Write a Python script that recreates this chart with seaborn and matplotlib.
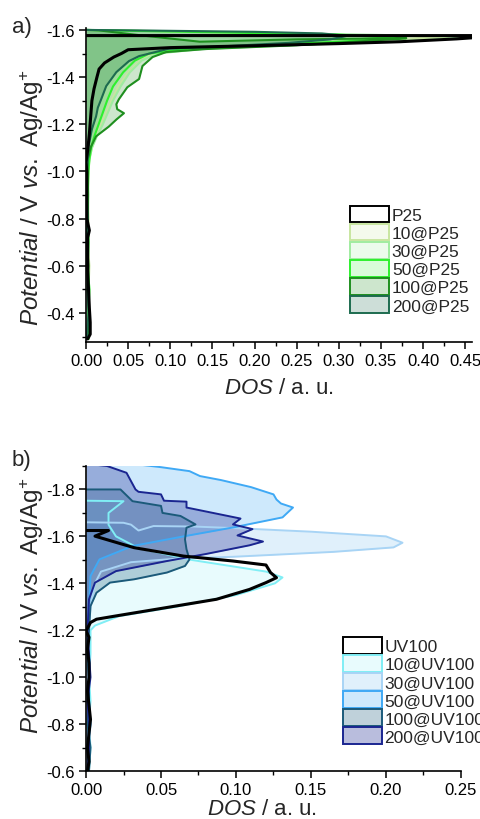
import matplotlib.pyplot as plt
import seaborn as sns
from matplotlib.patches import Patch
from matplotlib.colors import to_rgba
from matplotlib.ticker import MultipleLocator, FormatStrFormatter

sns.set_style('ticks')
plt.rcParams['font.family'] = ['Liberation Sans', 'DejaVu Sans']
plt.rcParams['mathtext.fontset'] = 'custom'
plt.rcParams['mathtext.rm'] = 'Liberation Sans'
plt.rcParams['mathtext.it'] = 'Liberation Sans:italic'
plt.rcParams['axes.unicode_minus'] = False

# ---------------- panel a) P25 series (potential in V, DOS in a.u.) ----------------
low_a = [-0.29, -0.4, -0.5, -0.6, -0.7, -0.8, -0.9, -1.0, -1.05]

p25_E = [-0.29, -0.31, -0.36, -0.42, -0.5, -0.58, -0.66, -0.72, -0.75, -0.8, -0.88, -0.95,
         -1.0, -1.04, -1.09, -1.16, -1.235, -1.3, -1.35, -1.4, -1.434, -1.46, -1.485, -1.5,
         -1.516, -1.525, -1.533, -1.542, -1.55, -1.562, -1.572, -1.576, -1.576]
p25_D = [0.002, 0.005, 0.005, 0.004, 0.003, 0.002, 0.002, 0.002, 0.004, 0.001, 0.001, 0.001,
         0.001, 0.0, 0.002, 0.004, 0.0056, 0.007, 0.0095, 0.013, 0.0155, 0.022, 0.033, 0.042,
         0.05, 0.1, 0.2, 0.3, 0.373, 0.44, 0.48, 0.46, 0.0]

p25_10_E = low_a + [-1.1, -1.15, -1.2, -1.25, -1.3, -1.36, -1.42, -1.47, -1.5, -1.52, -1.54,
                    -1.56, -1.568, -1.58, -1.59, -1.597, -1.6]
p25_10_D = [0.003, 0.004, 0.003, 0.004, 0.002, 0.003, 0.002, 0.003, 0.004, 0.007, 0.012, 0.018,
            0.024, 0.03, 0.038, 0.05, 0.064, 0.08, 0.13, 0.25, 0.38, 0.43, 0.3, 0.15, 0.05, 0.0]

p25_30_E = low_a + [-1.1, -1.15, -1.2, -1.25, -1.3, -1.36, -1.42, -1.47, -1.5, -1.52, -1.54,
                    -1.56, -1.57, -1.58, -1.59, -1.597, -1.6]
p25_30_D = [0.002, 0.003, 0.004, 0.002, 0.003, 0.002, 0.003, 0.002, 0.004, 0.007, 0.013, 0.02,
            0.026, 0.032, 0.041, 0.052, 0.066, 0.085, 0.14, 0.28, 0.42, 0.47, 0.33, 0.17, 0.06, 0.0]

p25_50_E = low_a + [-1.1, -1.15, -1.2, -1.25, -1.3, -1.36, -1.42, -1.47, -1.5, -1.52, -1.535,
                    -1.55, -1.565, -1.58, -1.59, -1.597, -1.6]
p25_50_D = [0.003, 0.003, 0.004, 0.002, 0.003, 0.002, 0.002, 0.003, 0.004, 0.006, 0.01, 0.015,
            0.02, 0.025, 0.032, 0.044, 0.058, 0.075, 0.12, 0.2, 0.3, 0.37, 0.3, 0.15, 0.04, 0.0]

p25_100_E = low_a + [-1.106, -1.149, -1.19, -1.22, -1.247, -1.264, -1.285, -1.306, -1.357,
                     -1.392, -1.447, -1.485, -1.506, -1.519, -1.535, -1.555, -1.565, -1.56,
                     -1.55, -1.575, -1.598, -1.6]
p25_100_D = [0.002, 0.004, 0.002, 0.003, 0.001, 0.002, 0.002, 0.002, 0.002, 0.006, 0.012, 0.027,
             0.036, 0.045, 0.037, 0.036, 0.039, 0.049, 0.063, 0.067, 0.079, 0.095, 0.143, 0.25,
             0.34, 0.38, 0.25, 0.135, 0.07, 0.015, 0.0]

p25_200_E = low_a + [-1.106, -1.179, -1.234, -1.27, -1.306, -1.362, -1.421, -1.468, -1.489,
                     -1.52, -1.53, -1.545, -1.56, -1.575, -1.585, -1.592, -1.597, -1.6]
p25_200_D = [0.001, 0.003, 0.002, 0.002, 0.001, 0.002, 0.001, 0.001, 0.002, 0.003, 0.007, 0.012,
             0.014, 0.018, 0.024, 0.036, 0.051, 0.063, 0.098, 0.16, 0.24, 0.29, 0.31, 0.28, 0.2,
             0.08, 0.0]

# ---------------- panel b) UV100 series ----------------
low_b = [-0.6, -0.7, -0.8, -0.9, -1.0, -1.1, -1.2]

uv_E = [-0.6, -0.64, -0.7, -0.76, -0.82, -0.88, -0.94, -1.0, -1.06, -1.12, -1.17, -1.197,
        -1.233, -1.247, -1.261, -1.297, -1.332, -1.374, -1.403, -1.424, -1.446, -1.478,
        -1.495, -1.516, -1.552, -1.601, -1.625, -1.625]
uv_D = [0.001, 0.002, 0.001, 0.002, 0.003, 0.002, 0.001, 0.002, 0.002, 0.001, 0.002, 0.0,
        0.003, 0.007, 0.02, 0.054, 0.087, 0.109, 0.12, 0.127, 0.123, 0.12, 0.098, 0.065,
        0.032, 0.006, 0.015, 0.0]

uv_10_E = low_b + [-1.22, -1.26, -1.3, -1.35, -1.4, -1.425, -1.45, -1.5, -1.55, -1.6, -1.65,
                   -1.7, -1.75, -1.752]
uv_10_D = [0.002, 0.003, 0.002, 0.003, 0.002, 0.003, 0.003, 0.006, 0.022, 0.06, 0.1, 0.126,
           0.131, 0.12, 0.07, 0.035, 0.02, 0.015, 0.015, 0.025, 0.0]

uv_30_E = low_b + [-1.3, -1.4, -1.45, -1.49, -1.505, -1.513, -1.534, -1.553, -1.573, -1.6,
                   -1.62, -1.635, -1.642, -1.644, -1.625, -1.65, -1.658, -1.66]
uv_30_D = [0.001, 0.002, 0.003, 0.002, 0.001, 0.002, 0.002, 0.003, 0.006, 0.01, 0.03, 0.06,
           0.098, 0.165, 0.205, 0.211, 0.2, 0.15, 0.1, 0.072, 0.045, 0.035, 0.03, 0.025, 0.0]

uv_50_E = low_b + [-1.3, -1.431, -1.502, -1.559, -1.6, -1.638, -1.681, -1.723, -1.74, -1.757,
                   -1.779, -1.81, -1.84, -1.857, -1.878, -1.895, -1.91]
uv_50_D = [0.002, 0.001, 0.003, 0.002, 0.002, 0.001, 0.001, 0.002, 0.003, 0.009, 0.031, 0.065,
           0.098, 0.131, 0.138, 0.13, 0.127, 0.125, 0.11, 0.09, 0.076, 0.069, 0.05, 0.03]

uv_100_E = low_b + [-1.303, -1.36, -1.403, -1.417, -1.446, -1.474, -1.502, -1.545, -1.587,
                    -1.637, -1.651, -1.687, -1.7, -1.73, -1.75, -1.8, -1.8]
uv_100_D = [0.002, 0.003, 0.001, 0.002, 0.002, 0.001, 0.002, 0.003, 0.007, 0.016, 0.032, 0.054,
            0.066, 0.069, 0.067, 0.066, 0.067, 0.073, 0.063, 0.051, 0.05, 0.031, 0.023, 0.0]

uv_200_E = low_b + [-1.332, -1.403, -1.452, -1.495, -1.525, -1.562, -1.578, -1.604, -1.631,
                    -1.651, -1.676, -1.723, -1.748, -1.752, -1.779, -1.79, -1.8, -1.871, -1.9,
                    -1.91]
uv_200_D = [0.001, 0.002, 0.002, 0.001, 0.003, 0.002, 0.001, 0.002, 0.006, 0.02, 0.054, 0.08,
            0.109, 0.118, 0.101, 0.111, 0.098, 0.103, 0.067, 0.067, 0.052, 0.05, 0.035, 0.033,
            0.027, 0.014, 0.0]

names_a = ['P25', '10@P25', '30@P25', '50@P25', '100@P25', '200@P25']
colors_a = ['black', '#c8e6a0', '#a0eca0', '#2ef02e', '#1f8f1f', '#1d6b4f']
alphas_a = [0.0, 0.2, 0.2, 0.18, 0.22, 0.22]
data_a = [(p25_E, p25_D), (p25_10_E, p25_10_D), (p25_30_E, p25_30_D),
          (p25_50_E, p25_50_D), (p25_100_E, p25_100_D), (p25_200_E, p25_200_D)]

names_b = ['UV100', '10@UV100', '30@UV100', '50@UV100', '100@UV100', '200@UV100']
colors_b = ['black', '#80eef5', '#a8d4f5', '#3fa9f5', '#1b5a7a', '#1a2590']
alphas_b = [0.0, 0.18, 0.35, 0.25, 0.28, 0.3]
data_b = [(uv_E, uv_D), (uv_10_E, uv_10_D), (uv_30_E, uv_30_D),
          (uv_50_E, uv_50_D), (uv_100_E, uv_100_D), (uv_200_E, uv_200_D)]


def draw_panel(ax, data, colors, alphas, lw):
    # fills first, then coloured lines, black reference on top
    for (E, D), c, a in zip(data, colors, alphas):
        if a > 0:
            ax.fill_betweenx(E, D, 0, color=c, alpha=a, linewidth=0, zorder=1)
    for (E, D), c in list(zip(data, colors))[1:]:
        sns.lineplot(x=D, y=E, sort=False, estimator=None, color=c, linewidth=lw,
                     ax=ax, zorder=2)
    E, D = data[0]
    sns.lineplot(x=D, y=E, sort=False, estimator=None, color='black', linewidth=2.2,
                 ax=ax, zorder=3)
    handles = []
    for c, a in zip(colors, alphas):
        face = 'white' if a == 0 else to_rgba(c, a)
        handles.append(Patch(facecolor=face, edgecolor=c, linewidth=1.4))
    return handles


def style_axes(ax):
    sns.despine(ax=ax)
    for s in ['left', 'bottom']:
        ax.spines[s].set_linewidth(1.2)
        ax.spines[s].set_color('black')
    ax.tick_params(which='major', direction='out', length=5, width=1.1, labelsize=12,
                   colors='black', pad=3)
    ax.tick_params(which='minor', direction='out', length=3, width=1.0, colors='black')
    ax.yaxis.set_major_locator(MultipleLocator(0.2))
    ax.yaxis.set_minor_locator(MultipleLocator(0.1))
    ax.yaxis.set_major_formatter(FormatStrFormatter('%.1f'))
    ax.xaxis.set_major_locator(MultipleLocator(0.05))
    ax.xaxis.set_minor_locator(MultipleLocator(0.025))
    ax.xaxis.set_major_formatter(FormatStrFormatter('%.2f'))
    ax.set_xlabel(r'$\it{DOS}$ / a. u.', fontsize=16)
    ax.set_ylabel(r'$\it{Potential}$ / V $\it{vs.}$ Ag/Ag$^{+}$', fontsize=17.5)


legend_kw = dict(loc='upper left', bbox_transform=None, frameon=False, fontsize=12.5,
                 handlelength=2.25, handleheight=1.1, labelspacing=0.05, handletextpad=0.15,
                 borderpad=0, borderaxespad=0)

fig = plt.figure(figsize=(4.81, 8.2), dpi=100)
legend_kw['bbox_transform'] = fig.transFigure

ax1 = fig.add_axes([0.1788, 0.5817, 0.8025, 0.3829])
h1 = draw_panel(ax1, data_a, colors_a, alphas_a, 1.5)
ax1.set_xlim(0, 0.458)
ax1.set_ylim(-0.277, -1.608)
style_axes(ax1)
ax1.xaxis.set_label_coords(0.5, -0.111)
ax1.yaxis.set_label_coords(-0.104, 0.463)
ax1.legend(h1, names_a, bbox_to_anchor=(0.728, 0.748), **legend_kw)

ax2 = fig.add_axes([0.1788, 0.0585, 0.7796, 0.372])
h2 = draw_panel(ax2, data_b, colors_b, alphas_b, 1.4)
ax2.set_xlim(0, 0.25)
ax2.set_ylim(-0.6, -1.9)
style_axes(ax2)
ax2.xaxis.set_label_coords(0.47, -0.09)
ax2.yaxis.set_label_coords(-0.107, 0.544)
ax2.legend(h2, names_b, bbox_to_anchor=(0.713, 0.222), **legend_kw)

fig.text(0.025, 0.967, 'a)', fontsize=16, va='center', ha='left')
fig.text(0.025, 0.439, 'b)', fontsize=16, va='center', ha='left')

fig.savefig('out.png', dpi=100)
